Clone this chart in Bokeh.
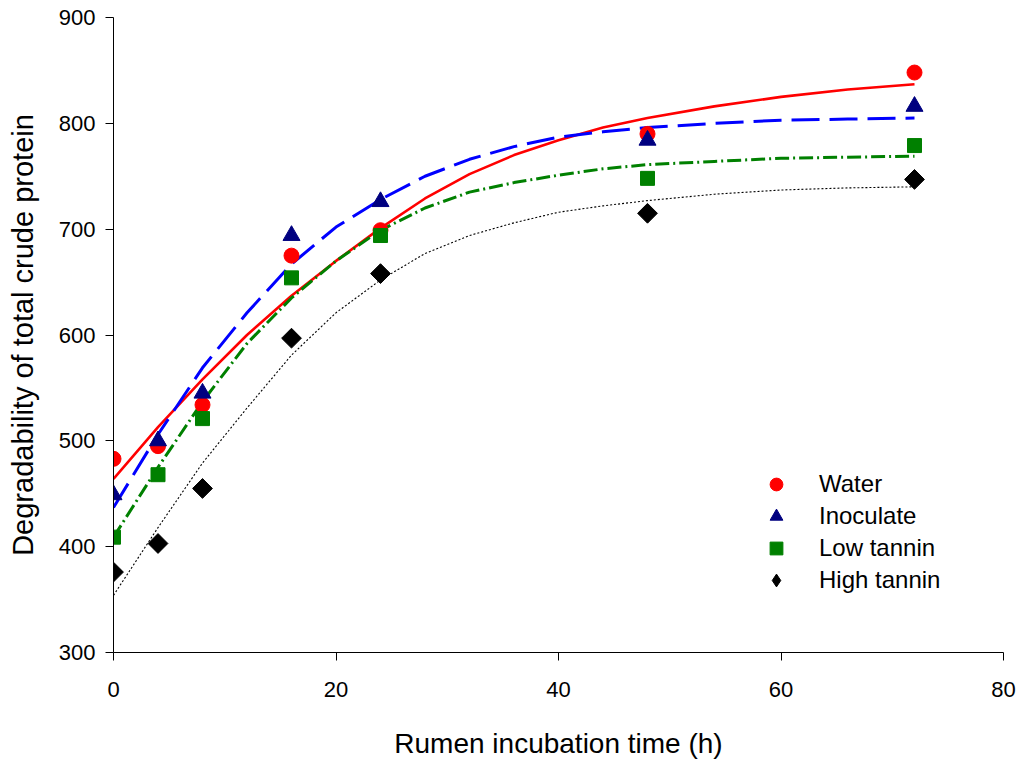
from bokeh.plotting import figure
from bokeh.models import Range1d, FixedTicker, Legend, LegendItem
from bokeh.embed import file_html
from bokeh.resources import INLINE
import numpy as np

# measured points
t = [0, 4, 8, 16, 24, 48, 72]
water = [483, 495, 534, 675, 699, 790, 848]
inoculate = [449, 500, 545, 694, 726, 784, 816]
low_tannin = [409, 468, 521, 654, 694, 748, 779]
high_tannin = [376, 403, 455, 597, 658, 715, 747]

# fitted curves
fit_t = [0, 4, 8, 12, 16, 20, 24, 28, 32, 36, 40, 44, 48, 54, 60, 66, 72]
water_fit = [464, 513, 558, 600, 637, 670, 701, 729, 752, 770, 784, 796, 805, 816, 825, 832, 837]
inoculate_fit = [437, 506, 569, 621, 667, 702, 728, 750, 766, 778, 787, 792, 796, 800, 803, 804, 805]
low_fit = [409, 475, 537, 592, 635, 670, 699, 720, 735, 744, 751, 757, 761, 764, 767, 768, 769]
high_fit = [354, 418, 479, 531, 581, 621, 652, 677, 694, 706, 716, 722, 727, 733, 737, 739, 740]

x_ticks = [0, 20, 40, 60, 80]
y_ticks = [300, 400, 500, 600, 700, 800, 900]

FONT = "Liberation Sans"

p = figure(width=1025, height=765, output_backend="svg", toolbar_location=None,
           x_range=Range1d(0, 80), y_range=Range1d(300, 900))
p.min_border_left = 113
p.min_border_right = 22
p.min_border_top = 17
p.min_border_bottom = 113
p.outline_line_color = None
p.xgrid.visible = False
p.ygrid.visible = False
p.background_fill_color = "white"
p.border_fill_color = "white"

for ax in (p.xaxis[0], p.yaxis[0]):
    ax.axis_line_color = "black"
    ax.axis_line_width = 1
    ax.major_tick_line_color = "black"
    ax.major_tick_out = 8
    ax.major_tick_in = 0
    ax.minor_tick_line_color = None
    ax.major_label_text_font = FONT
    ax.major_label_text_font_size = "22px"
    ax.major_label_text_color = "black"
    ax.axis_label_text_font = FONT
    ax.axis_label_text_font_style = "normal"
    ax.axis_label_text_color = "black"

p.xaxis[0].axis_label_text_font_size = "28px"
p.yaxis[0].axis_label_text_font_size = "29px"
p.xaxis[0].ticker = FixedTicker(ticks=x_ticks)
p.yaxis[0].ticker = FixedTicker(ticks=y_ticks)
p.xaxis[0].axis_label = "Rumen incubation time (h)"
p.yaxis[0].axis_label = "Degradability of total crude protein"
p.xaxis[0].major_label_standoff = 21
p.yaxis[0].major_label_standoff = 10
p.xaxis[0].axis_label_standoff = 28
p.yaxis[0].axis_label_standoff = 17

# fitted lines
p.line(fit_t, water_fit, line_color="#FF0000", line_width=2.6)
p.line(fit_t, inoculate_fit, line_color="#0000FF", line_width=3, line_dash="28 10")
p.line(fit_t, low_fit, line_color="#008000", line_width=3, line_dash="14 4 2 4")
p.line(fit_t, high_fit, line_color="black", line_width=1.1, line_dash="2 2")

# points
r_w = p.scatter(t, water, marker="circle", size=15, fill_color="#FF0000", line_color="#FF0000")
r_i = p.scatter(t, inoculate, marker="triangle", size=17, fill_color="#000080", line_color="#000080")
r_l = p.scatter(t, low_tannin, marker="square", size=14, fill_color="#008000", line_color="#008000")
r_h = p.scatter(t, high_tannin, marker="square", angle=np.pi / 4, size=14,
                fill_color="black", line_color="black")
# legend-only diamond glyph (not drawn in the plot: NaN position)
r_h_leg = p.scatter(x=np.array([np.nan]), y=np.array([np.nan]), marker="diamond", size=18,
                    fill_color="black", line_color="black")

legend = Legend(items=[
    LegendItem(label="Water", renderers=[r_w]),
    LegendItem(label="Inoculate", renderers=[r_i]),
    LegendItem(label="Low tannin", renderers=[r_l]),
    LegendItem(label="High tannin", renderers=[r_h_leg]),
])
legend.location = (643, 56)
legend.glyph_width = 40
legend.glyph_height = 32
legend.spacing = 0
legend.padding = 0
legend.margin = 0
legend.label_standoff = 23
legend.label_text_font = FONT
legend.label_text_font_size = "24px"
legend.label_text_color = "black"
legend.border_line_color = None
legend.background_fill_alpha = 0
p.add_layout(legend)

open("out.html", "w").write(file_html(p, INLINE))
